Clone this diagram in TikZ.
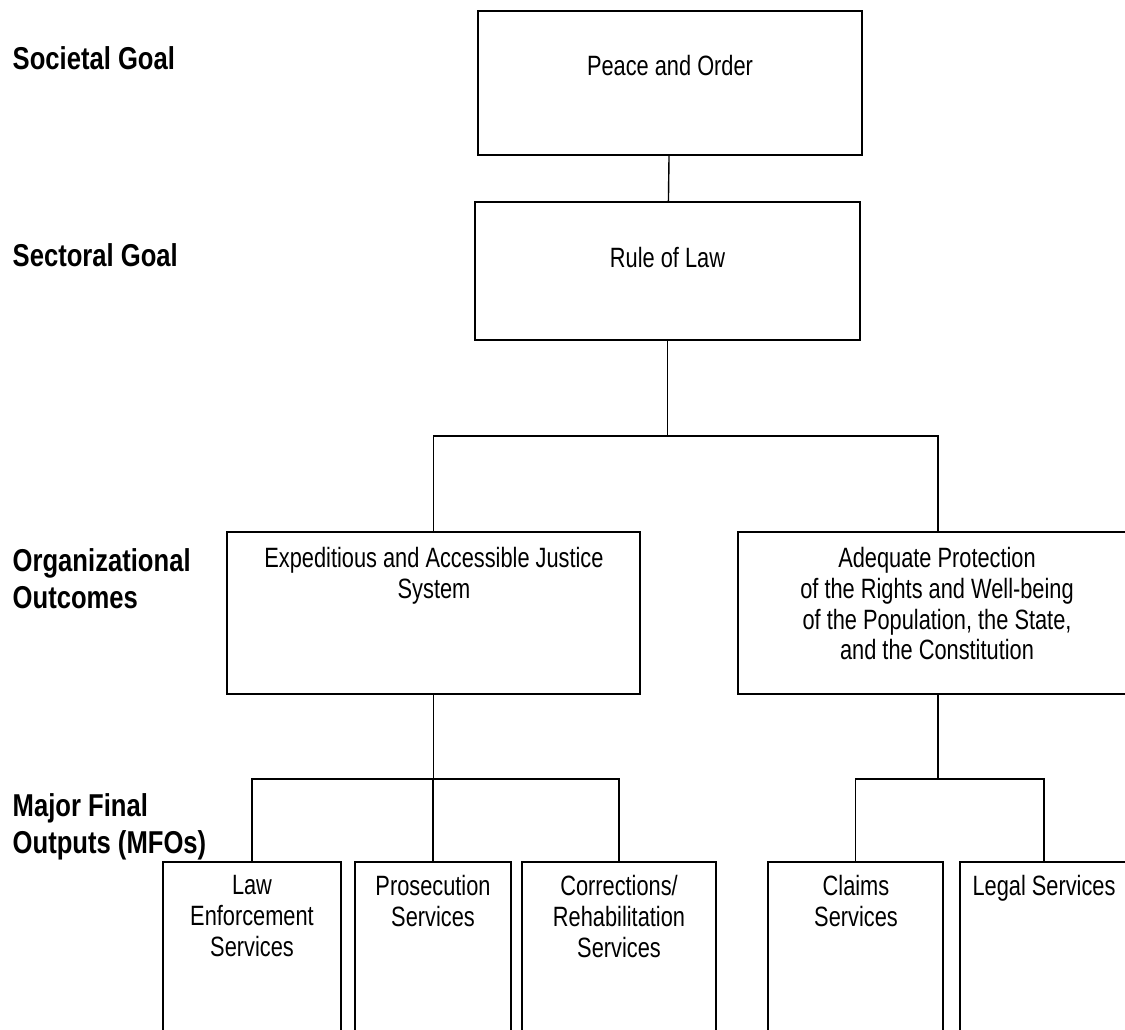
\documentclass[tikz,border=0pt]{standalone}
\usepackage{fontspec}
\setmainfont{Liberation Sans}[FakeStretch=0.78]
\newfontfamily\lblfont{Liberation Sans}[FakeStretch=0.81]
\usepackage{tikz}
\usetikzlibrary{positioning}

\begin{document}
\begin{tikzpicture}[x=0.02cm, y=-0.02cm, line width=0.8pt,
        box/.style = {draw, rectangle, inner sep=0pt},
        txt/.style = {anchor=north, inner sep=0pt, align=center, font=\fontsize{15.9}{17.4}\selectfont},
        lbl/.style = {anchor=north west, inner sep=0pt, align=left, font=\lblfont\bfseries\fontsize{18}{21}\selectfont}]
                \useasboundingbox (0, 0) rectangle (1125, 1030);
                \clip (0, 0) rectangle (1125, 1030);

                \node[lbl] at (12, 46) (societal) {Societal Goal};
                \node[lbl] at (12, 243) (sectoral) {Sectoral Goal};
                \node[lbl] at (12, 548) (orgout) {Organizational\\Outcomes};
                \node[lbl] at (12, 793) (mfos) {Major Final\\Outputs (MFOs)};

                \node[box, minimum width=7.68cm, minimum height=2.88cm] at (670, 83) (peace) {};
                \node[box, minimum width=7.70cm, minimum height=2.76cm] at (667.5, 271) (rule) {};
                \node[box, minimum width=8.26cm, minimum height=3.24cm] at (433.5, 613) (outL) {};
                \node[box, minimum width=8.00cm, minimum height=3.24cm] at (938, 613) (outR) {};
                \node[box, minimum width=3.56cm, minimum height=4cm] at (252, 962) (law) {};
                \node[box, minimum width=3.12cm, minimum height=4cm] at (433, 962) (pros) {};
                \node[box, minimum width=3.88cm, minimum height=4cm] at (619, 962) (corr) {};
                \node[box, minimum width=3.50cm, minimum height=4cm] at (855.5, 962) (claims) {};
                \node[box, minimum width=3.36cm, minimum height=4cm] at (1044, 962) (legal) {};

                \node[txt] at (670, 55) (peacetxt) {Peace and Order};
                \node[txt] at (667.5, 247) (ruletxt) {Rule of Law};
                \node[txt] at (434, 547) (outLtxt) {Expeditious and Accessible Justice\\System};
                \node[txt] at (937, 547) (outRtxt) {Adequate Protection\\of the Rights and Well-being\\of the Population, the State,\\and the Constitution};
                \node[txt] at (252, 875) (lawtxt) {Law\\Enforcement\\Services};
                \node[txt] at (433, 875) (prostxt) {Prosecution\\Services};
                \node[txt] at (619, 875) (corrtxt) {Corrections/\\Rehabilitation\\Services};
                \node[txt] at (856, 875) (claimstxt) {Claims\\Services};
                \node[txt] at (1044, 875) (legaltxt) {Legal Services};

                \coordinate (j1) at (667.5, 436);
                \coordinate (j2) at (433.5, 779);
                \coordinate (j3) at (938, 779);

                \draw (peace) -- (rule);
                \draw (rule.south) -- (j1);
                \draw (outL.north) -- (outL.north |- j1) -- (outR.north |- j1) -- (outR.north);

                \draw (outL.south) -- (j2);
                \draw (law.north) -- (law.north |- j2) -- (corr.north |- j2) -- (corr.north);
                \draw (pros.north) -- (pros.north |- j2);

                \draw (outR.south) -- (j3);
                \draw (claims.north) -- (claims.north |- j3) -- (legal.north |- j3) -- (legal.north);
\end{tikzpicture}
\end{document}
